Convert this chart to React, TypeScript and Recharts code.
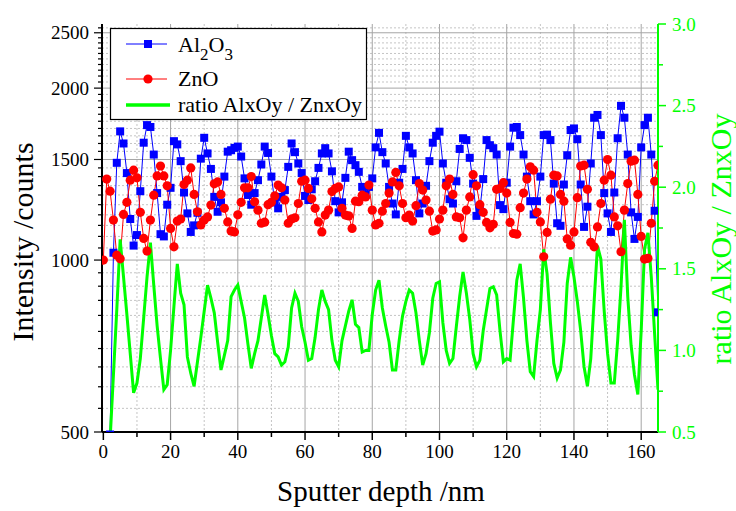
import React from 'react';
import { ComposedChart, Line, XAxis, YAxis, CartesianGrid } from 'recharts';

// Al2O3 intensity (counts), one point per nm
const al2o3 = [
  null, null, 495, 1030, 1480, 1680, 1600, 1420, 1180, 1060,
  1106, 1320, 1605, 1723, 1710, 1530, 1310, 1110, 1100, 1250,
  1338, 1615, 1594, 1490, 1313, 1207, 1120, 1150, 1210, 1505,
  1637, 1537, 1444, 1290, 1215, 1262, 1400, 1548, 1557, 1572,
  1580, 1518, 1390, 1300, 1250, 1310, 1380, 1470, 1580, 1540,
  1400, 1262, 1232, 1290, 1326, 1456, 1600, 1545, 1476, 1420,
  1295, 1274, 1330, 1374, 1450, 1537, 1570, 1537, 1430, 1268,
  1212, 1262, 1393, 1548, 1496, 1466, 1427, 1343, 1300, 1343,
  1390, 1575, 1670, 1545, 1476, 1343, 1256, 1202, 1366, 1444,
  1650, 1575, 1537, 1380, 1207, 1256, 1349, 1490, 1605, 1650,
  1678, 1476, 1366, 1278, 1256, 1374, 1565, 1634, 1622, 1510,
  1361, 1195, 1223, 1386, 1622, 1589, 1570, 1530, 1248, 1228,
  1366, 1580, 1705, 1710, 1655, 1530, 1400, 1268, 1202, 1268,
  1400, 1655, 1658, 1622, 1361, 1160, 1148, 1356, 1526, 1689,
  1700, 1628, 1356, 1143, 1240, 1476, 1775, 1795, 1655, 1310,
  1207, 1120, 1313, 1634, 1862, 1775, 1530, 1212, 1089, 1190,
  1575, 1723, 1775, 1530, 1220, 810,
];

// ZnO intensity (counts)
const zno = [
  1000, 1386, 1320, 1175, 1020, 1005, 1202, 1262, 1380, 1437,
  1393, 1212, 1091, 1037, 1175, 1299, 1404, 1461, 1404, 1349,
  1136, 1055, 1170, 1180, 1356, 1380, 1450, 1303, 1215, 1152,
  1175, 1190, 1248, 1360, 1370, 1303, 1232, 1166, 1124, 1120,
  1200, 1262, 1338, 1338, 1400, 1265, 1223, 1160, 1165, 1250,
  1262, 1295, 1353, 1338, 1274, 1160, 1180, 1186, 1256, 1374,
  1380, 1335, 1280, 1232, 1166, 1120, 1199, 1223, 1318, 1335,
  1343, 1232, 1199, 1195, 1136, 1268, 1265, 1299, 1290, 1353,
  1223, 1152, 1160, 1218, 1256, 1310, 1370, 1424, 1349, 1256,
  1186, 1199, 1170, 1245, 1361, 1326, 1274, 1218, 1124, 1129,
  1180, 1223, 1349, 1386, 1303, 1190, 1186, 1094, 1223, 1290,
  1411, 1349, 1250, 1212, 1164, 1139, 1155, 1330, 1335, 1366,
  1310, 1164, 1113, 1110, 1235, 1310, 1386, 1456, 1437, 1212,
  1166, 1013, 1118, 1278, 1408, 1404, 1303, 1268, 1089, 1062,
  1120, 1286, 1461, 1466, 1330, 1074, 1055, 1143, 1256, 1380,
  1500, 1408, 1190, 1148, 1034, 1223, 1361, 1490, 1496, 1303,
  1100, 1004, 1007, 1160, 1374, 1466,
];

// ratio AlxOy / ZnxOy
const ratio = [
  null, null, 0.45, 0.85, 1.25, 1.68, 1.45, 1.22, 0.98, 0.74,
  0.80, 0.95, 1.2, 1.45, 1.66, 1.4, 1.15, 0.95, 0.76, 0.79,
  1.0, 1.27, 1.53, 1.35, 1.28, 0.96, 0.86, 0.78, 0.93, 1.08,
  1.24, 1.40, 1.32, 1.23, 1.05, 0.88, 0.97, 1.06, 1.33, 1.37,
  1.40, 1.30, 1.20, 1.04, 0.89, 0.98, 1.06, 1.2, 1.34, 1.22,
  1.09, 0.98, 0.96, 0.91, 0.93, 1.02, 1.26, 1.35, 1.30, 1.145,
  1.05, 0.94, 0.95, 1.08, 1.25, 1.37, 1.30, 1.25, 1.06, 0.94,
  0.90, 1.06, 1.15, 1.24, 1.31, 1.16, 1.14, 0.99, 1.0, 1.0,
  1.22, 1.37, 1.43, 1.26, 1.15, 1.05, 0.88, 0.88, 1.06, 1.21,
  1.30, 1.37, 1.35, 1.23, 1.06, 0.91, 0.98, 1.11, 1.32, 1.41,
  1.42, 1.17, 1.0, 0.92, 0.95, 1.145, 1.33, 1.48, 1.35, 1.19,
  0.98, 0.90, 0.94, 1.12, 1.25, 1.38, 1.39, 1.34, 1.12, 0.93,
  0.95, 0.94, 1.19, 1.43, 1.53, 1.32, 1.06, 0.87, 0.84, 1.06,
  1.25, 1.62, 1.47, 1.17, 0.92, 0.83, 0.88, 1.05, 1.41, 1.57,
  1.45, 1.30, 1.12, 0.90, 0.78, 0.95, 1.30, 1.64, 1.56, 1.24,
  0.98, 0.80, 0.80, 1.06, 1.39, 1.80, 1.33, 1.03, 0.85, 0.73,
  1.12, 1.62, 1.72, 1.45, 1.10, 0.76,
];

const depth = zno.map((_, i) => i);

const depthMajor = [0, 20, 40, 60, 80, 100, 120, 140, 160];
const depthMinor = [10, 30, 50, 70, 90, 110, 130, 150];
const countMajor = [500, 1000, 1500, 2000, 2500];
const countMinor = [
  550, 600, 650, 700, 750, 800, 850, 900, 950,
  1050, 1100, 1150, 1200, 1250, 1300, 1350, 1400, 1450,
  1550, 1600, 1650, 1700, 1750, 1800, 1850, 1900, 1950,
  2050, 2100, 2150, 2200, 2250, 2300, 2350, 2400, 2450, 2550,
];
const ratioMajor = [0.5, 1.0, 1.5, 2.0, 2.5, 3.0];
const ratioMinor = [0.75, 1.25, 1.75, 2.25, 2.75];

const data = depth.map((d, i) => ({ depth: d, al: al2o3[i], zn: zno[i], ratio: ratio[i] }));

const serif = "'Liberation Serif', 'Times New Roman', Times, serif";
const GREEN = '#00ff00';

const sortNum = (a: number[]) => [...a].sort((p, q) => p - q);

function BottomTick(props: any) {
  const { x, y, payload } = props;
  const major = depthMajor.includes(payload.value);
  return (
    <g>
      <line x1={x} x2={x} y1={y} y2={y + (major ? 8 : 5)} stroke="#000" strokeWidth={1.5} />
      {major && (
        <text x={x} y={y + 26} textAnchor="middle" fontSize={19} fontFamily={serif} fill="#000">
          {payload.value}
        </text>
      )}
    </g>
  );
}

function TopTick(props: any) {
  const { x, y, payload } = props;
  const major = depthMajor.includes(payload.value);
  return <line x1={x} x2={x} y1={y} y2={y + (major ? 8 : 5)} stroke="#000" strokeWidth={1.5} />;
}

function LeftTick(props: any) {
  const { x, y, payload } = props;
  const major = countMajor.includes(payload.value);
  return (
    <g>
      <line x1={x} x2={x - (major ? 8 : 4)} y1={y} y2={y} stroke="#000" strokeWidth={1.2} />
      {major && (
        <text x={x - 13} y={y + 6.5} textAnchor="end" fontSize={19} fontFamily={serif} fill="#000">
          {payload.value}
        </text>
      )}
    </g>
  );
}

function RightTick(props: any) {
  const { x, y, payload } = props;
  const major = ratioMajor.includes(payload.value);
  return (
    <g>
      <line x1={x} x2={x + (major ? 8 : 5)} y1={y} y2={y} stroke={GREEN} strokeWidth={1.5} />
      {major && (
        <text x={x + 14} y={y + 6.5} textAnchor="start" fontSize={19} fontFamily={serif} fill={GREEN}>
          {payload.value.toFixed(1)}
        </text>
      )}
    </g>
  );
}

function SquareDot(props: any) {
  const { cx, cy, index } = props;
  if (cx == null || cy == null) return <g key={`sq-${index}`} />;
  return <rect key={`sq-${index}`} x={cx - 4} y={cy - 4} width={8} height={8} fill="#0000ff" />;
}

function CircleDot(props: any) {
  const { cx, cy, index } = props;
  if (cx == null || cy == null) return <g key={`ci-${index}`} />;
  return <circle key={`ci-${index}`} cx={cx} cy={cy} r={4.6} fill="#ff0000" />;
}

function Overlay() {
  return (
    <svg width={736} height={511} style={{ position: 'absolute', left: 0, top: 0, pointerEvents: 'none' }}>
      <text
        transform="translate(33,242) rotate(-90)"
        textAnchor="middle"
        fontSize={30}
        fontFamily={serif}
        fill="#000"
      >
        Intensity /counts
      </text>
      <text
        transform="translate(731,239) rotate(-90)"
        textAnchor="middle"
        fontSize={30}
        fontFamily={serif}
        fill={GREEN}
      >
        ratio AlxOy / ZnxOy
      </text>
      <text x={381} y={501} textAnchor="middle" fontSize={29} fontFamily={serif} fill="#000">
        Sputter depth /nm
      </text>

      <g transform="translate(110,28)">
        <rect x={0.5} y={0.5} width={256} height={91} fill="#fff" stroke="#000" strokeWidth={1.2} />
        <line x1={16} x2={57} y1={16} y2={16} stroke="#0000ff" strokeWidth={1} />
        <rect x={34} y={12} width={8} height={8} fill="#0000ff" />
        <text x={68} y={24} fontSize={22} fontFamily={serif} fill="#000">
          Al<tspan fontSize={17} dy={8}>2</tspan>
          <tspan dy={-8}>O</tspan>
          <tspan fontSize={17} dy={8}>3</tspan>
        </text>
        <line x1={16} x2={57} y1={51} y2={51} stroke="#ff0000" strokeWidth={1} />
        <circle cx={38} cy={51} r={4.6} fill="#ff0000" />
        <text x={68} y={58} fontSize={22} fontFamily={serif} fill="#000">
          ZnO
        </text>
        <line x1={16} x2={60} y1={77} y2={77} stroke={GREEN} strokeWidth={3.5} />
        <text x={68} y={84} fontSize={22} fontFamily={serif} fill="#000">
          ratio AlxOy / ZnxOy
        </text>
      </g>
    </svg>
  );
}

export default function App() {
  return (
    <div style={{ position: 'absolute', left: 0, top: 0, width: 736, height: 511, background: '#fff' }}>
      <ComposedChart width={736} height={511} data={data} margin={{ top: 24, right: 0, bottom: 0, left: 0 }}>
        <CartesianGrid
          xAxisId="x"
          yAxisId="left"
          horizontalValues={countMinor}
          verticalValues={depthMinor}
          stroke="#c4c4c4"
          strokeDasharray="2 2"
        />
        <CartesianGrid
          xAxisId="x"
          yAxisId="left"
          horizontalValues={countMajor}
          verticalValues={depthMajor.filter((v) => v > 0)}
          stroke="#a6a6a6"
        />
        <XAxis
          xAxisId="x"
          dataKey="depth"
          type="number"
          domain={[-0.4, 165]}
          allowDataOverflow
          ticks={sortNum([...depthMajor, ...depthMinor])}
          interval={0}
          tickSize={0}
          tickMargin={0}
          tickLine={false}
          tick={BottomTick}
          axisLine={{ stroke: '#000', strokeWidth: 2 }}
          height={79}
        />
        <XAxis
          xAxisId="top"
          orientation="top"
          dataKey="depth"
          type="number"
          domain={[-0.4, 165]}
          allowDataOverflow
          ticks={sortNum([...depthMajor, ...depthMinor])}
          interval={0}
          tickSize={0}
          tickMargin={0}
          tickLine={false}
          tick={TopTick}
          axisLine={{ stroke: '#000', strokeWidth: 2 }}
          height={0}
        />
        <YAxis
          yAxisId="left"
          scale="log"
          type="number"
          domain={[500, 2590]}
          allowDataOverflow
          ticks={sortNum([...countMajor, ...countMinor])}
          interval={0}
          tickSize={0}
          tickMargin={0}
          tickLine={false}
          tick={LeftTick}
          axisLine={{ stroke: '#000', strokeWidth: 2 }}
          width={102}
        />
        <YAxis
          yAxisId="right"
          orientation="right"
          type="number"
          domain={[0.5, 3.0]}
          allowDataOverflow
          ticks={sortNum([...ratioMajor, ...ratioMinor])}
          interval={0}
          tickSize={0}
          tickMargin={0}
          tickLine={false}
          tick={RightTick}
          axisLine={{ stroke: GREEN, strokeWidth: 2 }}
          width={78}
        />
        <Line
          xAxisId="x"
          yAxisId="left"
          type="linear"
          dataKey="al"
          stroke="#0000ff"
          strokeWidth={1}
          dot={SquareDot}
          activeDot={false}
          isAnimationActive={false}
        />
        <Line
          xAxisId="x"
          yAxisId="left"
          type="linear"
          dataKey="zn"
          stroke="#ff0000"
          strokeWidth={1}
          dot={CircleDot}
          activeDot={false}
          isAnimationActive={false}
        />
        <Line
          xAxisId="x"
          yAxisId="right"
          type="linear"
          dataKey="ratio"
          stroke={GREEN}
          strokeWidth={3}
          dot={false}
          activeDot={false}
          isAnimationActive={false}
        />
      </ComposedChart>
      <Overlay />
    </div>
  );
}
